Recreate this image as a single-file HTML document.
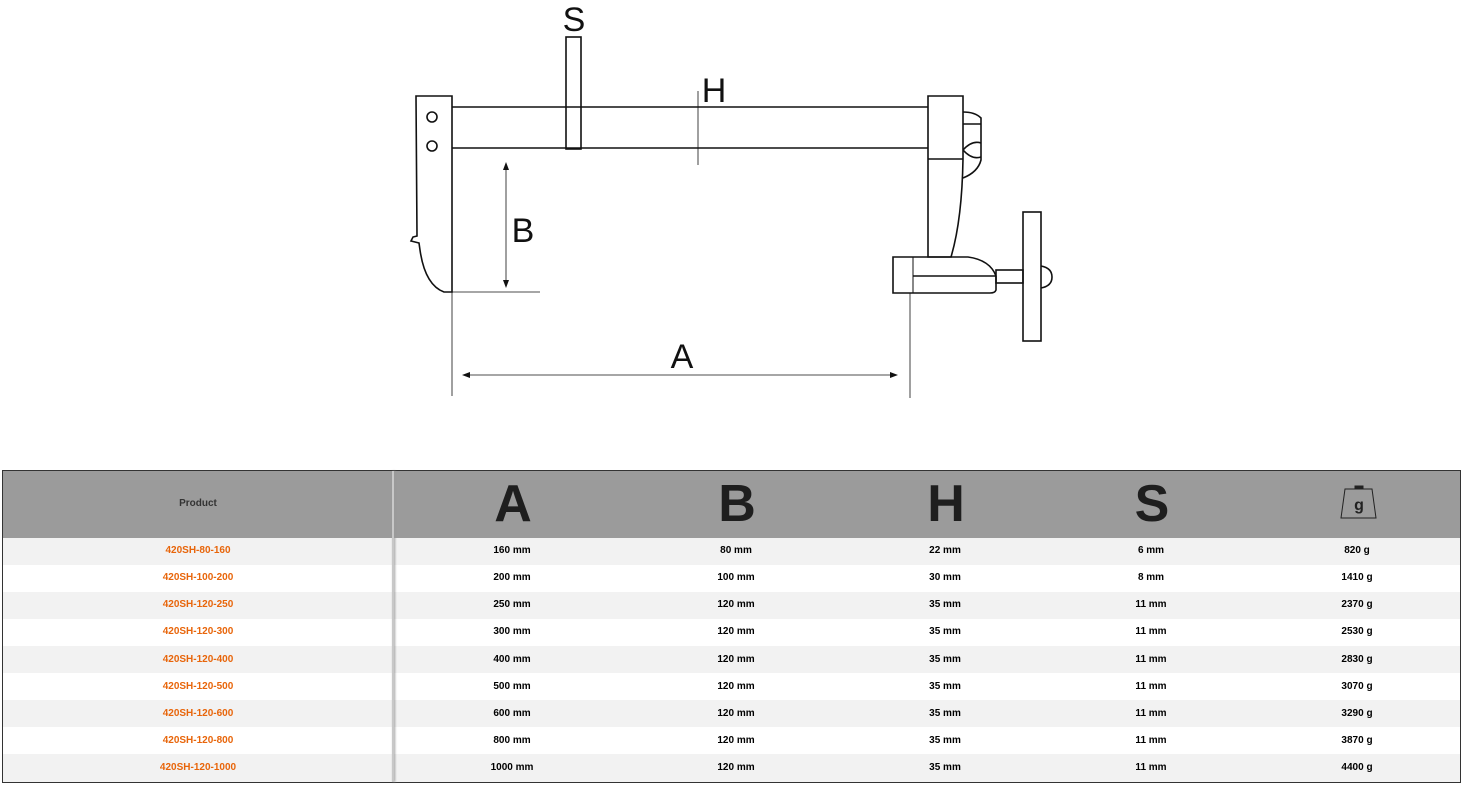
<!DOCTYPE html>
<html><head><meta charset="utf-8"><style>
body{margin:0;width:1471px;height:786px;background:#fff;position:relative;overflow:hidden;font-family:"Liberation Sans",Arial,sans-serif}
svg{position:absolute;left:0;top:0}
.tbl{position:absolute;left:2px;top:470px;width:1457px;height:311px;border:1px solid #333;box-sizing:content-box}
.hdr{position:absolute;left:0;top:0;width:1457px;height:67px;background:#9b9b9b}
.row{position:absolute;left:0;width:1457px;height:27px}
.t{position:absolute;transform:translateX(-50%);font-weight:bold;font-size:10px;white-space:nowrap}
.o{color:#e8650a}
.big{position:absolute;transform:translateX(-50%);font-weight:900;font-size:52px;color:#1e1e1e;top:3px;line-height:60px}
.div{position:absolute;left:389px;top:0;width:2px;height:311px;background:#c8c8c8;box-shadow:1px 0 2px #999}
</style></head><body>
<svg width="1471" height="786" viewBox="0 0 1471 786" fill="none" stroke="#111" stroke-width="1.6">
<!-- left jaw -->
<path d="M416 96 L452 96 L452 292 L444 292 Q425 285 420 250 L419 243 L411 241 L413 237 L417 236 L416 96 Z"/>
<circle cx="432" cy="117" r="5"/><circle cx="432" cy="146" r="5"/>
<!-- bar -->
<line x1="452" y1="107" x2="928" y2="107"/><line x1="452" y1="148" x2="928" y2="148"/>
<!-- S tab -->
<rect x="566" y="37" width="15" height="112"/>
<!-- H line -->
<line x1="698" y1="91" x2="698" y2="165" stroke-width="0.8"/>
<!-- right jaw -->
<path d="M928 96 L963 96 L963 159 Q962 220 951 257 L928 257 Z"/>
<line x1="928" y1="159" x2="963" y2="159"/>
<path d="M963 112 Q975 112 981 118 L981 160 Q978 172 963 178"/>
<line x1="963" y1="124" x2="981" y2="124"/>
<path d="M963 150 Q972 140 981 143 M963 150 Q972 160 981 157"/>
<!-- sliding block -->
<path d="M893 257 L968 257 Q990 260 996 276 L996 290 Q995 293 990 293 L893 293 Z"/>
<line x1="913" y1="257" x2="913" y2="293" stroke-width="1"/>
<line x1="913" y1="276" x2="996" y2="276"/>
<rect x="996" y="270" width="27" height="13"/>
<rect x="1023" y="212" width="18" height="129"/>
<path d="M1041 266 Q1052 268 1052 277 Q1052 286 1041 288"/>
<!-- dims -->
<g stroke-width="0.8">
<line x1="506" y1="166" x2="506" y2="284"/>
<line x1="452" y1="292" x2="540" y2="292"/>
<line x1="452" y1="292" x2="452" y2="396"/>
<line x1="910" y1="293" x2="910" y2="398"/>
<line x1="466" y1="375" x2="894" y2="375"/>
</g>
<g fill="#111" stroke="none">
<path d="M506 162 L503 170 L509 170 Z"/><path d="M506 288 L503 280 L509 280 Z"/>
<path d="M462 375 L470 372 L470 378 Z"/><path d="M898 375 L890 372 L890 378 Z"/>
</g>
<g fill="#111" stroke="none" font-family="Liberation Sans, Arial, sans-serif" font-size="34" text-anchor="middle">
<text x="574" y="31">S</text><text x="714" y="102">H</text><text x="523" y="242">B</text><text x="682" y="368">A</text>
</g>
</svg>
<div class="tbl">
<div class="hdr"></div>
<div class="row" style="top:67px;background:#f2f2f2"></div>
<div class="row" style="top:94px;background:#fff"></div>
<div class="row" style="top:121px;background:#f2f2f2"></div>
<div class="row" style="top:148px;background:#fff"></div>
<div class="row" style="top:175px;background:#f2f2f2"></div>
<div class="row" style="top:202px;background:#fff"></div>
<div class="row" style="top:229px;background:#f2f2f2"></div>
<div class="row" style="top:256px;background:#fff"></div>
<div class="row" style="top:283px;background:#f2f2f2;height:28px"></div>
<div class="div"></div>
<div class="t" style="left:195px;top:27px;color:#333">Product</div>
<div class="big" style="left:510px">A</div>
<div class="big" style="left:734px">B</div>
<div class="big" style="left:943px">H</div>
<div class="big" style="left:1149px">S</div>
<svg style="left:1337px;top:13px" width="38" height="38" viewBox="0 0 38 38" fill="none" stroke="#222" stroke-width="1">
<path d="M5 5 L32 5 L36 34 L1 34 Z"/><rect x="15" y="2" width="8" height="3" fill="#222"/>
<text x="19" y="26" font-family="Liberation Sans, Arial, sans-serif" font-size="16" font-weight="bold" fill="#222" stroke="none" text-anchor="middle">g</text>
</svg>
</div>
<div style="position:absolute;left:3px;top:471px;width:1457px">
<div class="t o" style="left:195px;top:74px">420SH-80-160</div>
<div class="t o" style="left:195px;top:101px">420SH-100-200</div>
<div class="t o" style="left:195px;top:128px">420SH-120-250</div>
<div class="t o" style="left:195px;top:155px">420SH-120-300</div>
<div class="t o" style="left:195px;top:183px">420SH-120-400</div>
<div class="t o" style="left:195px;top:210px">420SH-120-500</div>
<div class="t o" style="left:195px;top:237px">420SH-120-600</div>
<div class="t o" style="left:195px;top:264px">420SH-120-800</div>
<div class="t o" style="left:195px;top:291px">420SH-120-1000</div>

<div class="t" style="left:509px;top:74px">160 mm</div>
<div class="t" style="left:509px;top:101px">200 mm</div>
<div class="t" style="left:509px;top:128px">250 mm</div>
<div class="t" style="left:509px;top:155px">300 mm</div>
<div class="t" style="left:509px;top:183px">400 mm</div>
<div class="t" style="left:509px;top:210px">500 mm</div>
<div class="t" style="left:509px;top:237px">600 mm</div>
<div class="t" style="left:509px;top:264px">800 mm</div>
<div class="t" style="left:509px;top:291px">1000 mm</div>

<div class="t" style="left:733px;top:74px">80 mm</div>
<div class="t" style="left:733px;top:101px">100 mm</div>
<div class="t" style="left:733px;top:128px">120 mm</div>
<div class="t" style="left:733px;top:155px">120 mm</div>
<div class="t" style="left:733px;top:183px">120 mm</div>
<div class="t" style="left:733px;top:210px">120 mm</div>
<div class="t" style="left:733px;top:237px">120 mm</div>
<div class="t" style="left:733px;top:264px">120 mm</div>
<div class="t" style="left:733px;top:291px">120 mm</div>

<div class="t" style="left:942px;top:74px">22 mm</div>
<div class="t" style="left:942px;top:101px">30 mm</div>
<div class="t" style="left:942px;top:128px">35 mm</div>
<div class="t" style="left:942px;top:155px">35 mm</div>
<div class="t" style="left:942px;top:183px">35 mm</div>
<div class="t" style="left:942px;top:210px">35 mm</div>
<div class="t" style="left:942px;top:237px">35 mm</div>
<div class="t" style="left:942px;top:264px">35 mm</div>
<div class="t" style="left:942px;top:291px">35 mm</div>

<div class="t" style="left:1148px;top:74px">6 mm</div>
<div class="t" style="left:1148px;top:101px">8 mm</div>
<div class="t" style="left:1148px;top:128px">11 mm</div>
<div class="t" style="left:1148px;top:155px">11 mm</div>
<div class="t" style="left:1148px;top:183px">11 mm</div>
<div class="t" style="left:1148px;top:210px">11 mm</div>
<div class="t" style="left:1148px;top:237px">11 mm</div>
<div class="t" style="left:1148px;top:264px">11 mm</div>
<div class="t" style="left:1148px;top:291px">11 mm</div>

<div class="t" style="left:1354px;top:74px">820 g</div>
<div class="t" style="left:1354px;top:101px">1410 g</div>
<div class="t" style="left:1354px;top:128px">2370 g</div>
<div class="t" style="left:1354px;top:155px">2530 g</div>
<div class="t" style="left:1354px;top:183px">2830 g</div>
<div class="t" style="left:1354px;top:210px">3070 g</div>
<div class="t" style="left:1354px;top:237px">3290 g</div>
<div class="t" style="left:1354px;top:264px">3870 g</div>
<div class="t" style="left:1354px;top:291px">4400 g</div>
</div>
</body></html>
